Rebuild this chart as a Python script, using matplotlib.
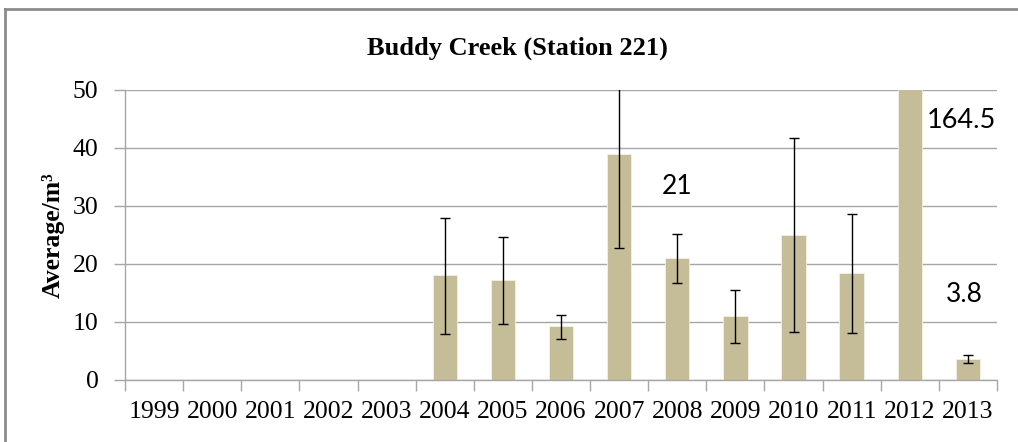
import numpy as np
import matplotlib as mpl
import matplotlib.pyplot as plt
from matplotlib.lines import Line2D

mpl.use("Agg")

# DATA
# -----------
years = [str(y) for y in range(1999, 2014)]
means = [np.nan, np.nan, np.nan, np.nan, np.nan,
         18.1, 17.2, 9.3, 38.9, 21.0, 11.1, 25.0, 18.4, 164.5, 3.7]
err_low = [np.nan, np.nan, np.nan, np.nan, np.nan,
           7.9, 9.7, 7.0, 22.7, 16.8, 6.3, 8.2, 8.1, np.nan, 3.0]
err_high = [np.nan, np.nan, np.nan, np.nan, np.nan,
            28.0, 24.7, 11.2, 56.0, 25.1, 15.6, 41.8, 28.7, np.nan, 4.3]
# values written on the chart, by category
labels = {"2008": "21", "2012": "164.5", "2013": "3.8"}

bar_color = "#C4BD97"
grid_color = "#A6A6A6"
serif = ["Liberation Serif", "DejaVu Serif"]
sans = ["Lato", "DejaVu Sans"]

# -----------
fig = plt.figure(figsize=(10.18, 4.42), dpi=100)
ax = fig.add_axes([125 / 1018, 62 / 442, 872 / 1018, 290 / 442])

x = np.arange(len(years))
m = np.array(means, dtype=float)
lo = np.array(err_low, dtype=float)
hi = np.array(err_high, dtype=float)

ax.bar(x, np.nan_to_num(m), width=0.42, color=bar_color,
       edgecolor="#F2F0E6", linewidth=0.6, zorder=2)
ok = ~np.isnan(lo)
ax.errorbar(x[ok], m[ok], yerr=[m[ok] - lo[ok], hi[ok] - m[ok]],
            fmt="none", ecolor="black", elinewidth=1.0, capsize=3.3,
            capthick=1.0, zorder=3)

ax.set_xlim(-0.5, len(years) - 0.5)
ax.set_ylim(0, 50)
ax.set_yticks(np.arange(0, 51, 10))
ax.yaxis.grid(True, color=grid_color, linewidth=1.0, zorder=0)
ax.set_axisbelow(True)

ax.set_xticks(x)
ax.set_xticklabels(years, fontfamily=serif, fontsize=18.5)
ax.set_xticks(np.arange(-0.5, len(years), 1), minor=True)
ax.tick_params(axis="x", which="major", length=0, pad=15)
ax.tick_params(axis="x", which="minor", length=8, width=1, color=grid_color,
               direction="out")
ax.tick_params(axis="y", length=8, width=1, color=grid_color, pad=11,
               labelsize=18.5)
for t in ax.get_yticklabels():
    t.set_fontfamily(serif)

for s in ["top", "right"]:
    ax.spines[s].set_visible(False)
for s in ["left", "bottom"]:
    ax.spines[s].set_color(grid_color)
    ax.spines[s].set_linewidth(1.0)

ax.set_ylabel("Average/m³", fontfamily=serif, fontsize=18.5,
              fontweight="bold", labelpad=6)
# title is centred on the whole chart, not on the plot area
fig.text(517 / 1018, 1 - 48 / 442, "Buddy Creek (Station 221)",
         ha="center", va="center", fontfamily=serif, fontsize=19,
         fontweight="bold")

# value labels
i = years.index("2008")
ax.text(x[i], 33.3, labels["2008"], ha="center", va="center",
        fontfamily=sans, fontsize=19)
i = years.index("2012")
ax.text(x[i] + 0.29, 44.8, labels["2012"], ha="left", va="center",
        fontfamily=sans, fontsize=19.5)
i = years.index("2013")
ax.text(x[i] - 0.07, 14.7, labels["2013"], ha="center", va="center",
        fontfamily=sans, fontsize=19)

# chart border (left and top)
fig.add_artist(Line2D([5 / 1018, 5 / 1018], [0, 1 - 9 / 442],
                      transform=fig.transFigure, color="#8C8C8C", lw=2))
fig.add_artist(Line2D([5 / 1018, 1], [1 - 9 / 442, 1 - 9 / 442],
                      transform=fig.transFigure, color="#8C8C8C", lw=2))

fig.savefig("out.png", dpi=100)
